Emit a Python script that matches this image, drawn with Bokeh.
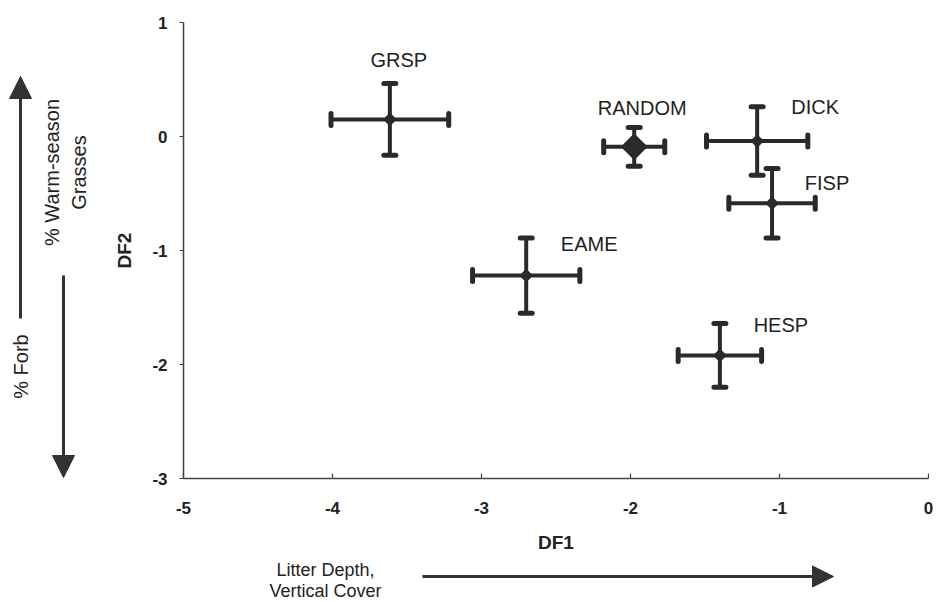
import math
from bokeh.plotting import figure
from bokeh.layouts import column, row
from bokeh.models import (ColumnDataSource, FixedTicker, Label, Arrow, NormalHead, Range1d,
                          PrintfTickFormatter)
from bokeh.core.properties import value
from bokeh.embed import file_html
from bokeh.resources import INLINE

# ---- data ----
species = ["GRSP", "RANDOM", "EAME", "DICK", "FISP", "HESP"]
df1_mean = [-3.615, -1.975, -2.70, -1.15, -1.05, -1.40]
df2_mean = [0.15, -0.09, -1.22, -0.04, -0.585, -1.92]
df1_se = [0.395, 0.205, 0.36, 0.34, 0.29, 0.28]
df2_se = [0.315, 0.17, 0.33, 0.30, 0.305, 0.28]
x_ticks = [-5, -4, -3, -2, -1, 0]
y_ticks = [-3, -2, -1, 0, 1]

# ---- layout / style constants (pixels) ----
label_offsets = {"GRSP": (9, -59), "RANDOM": (8, -39), "DICK": (58, -34),
                 "FISP": (55, -20), "EAME": (63, -32), "HESP": (61, -30)}
INK = "#2a2a2a"
TXT = "#222222"
FONT = "Liberation Sans"
W, H = 935, 600
LEFT_W = 100
MAIN_H = 560
TOP_B, BOT_B = 22, 82          # frame borders of the main chart
FRAME_TOP, FRAME_BOT = TOP_B, MAIN_H - BOT_B


def blank(width, height, xr, yr, **kw):
    f = figure(width=width, height=height, x_range=Range1d(*xr), y_range=Range1d(*yr),
               x_axis_type=None, y_axis_type=None, output_backend="svg",
               toolbar_location=None, min_border=0, **kw)
    f.outline_line_color = None
    return f


src = ColumnDataSource(dict(
    name=species, x=df1_mean, y=df2_mean,
    xlo=[m - e for m, e in zip(df1_mean, df1_se)],
    xhi=[m + e for m, e in zip(df1_mean, df1_se)],
    ylo=[m - e for m, e in zip(df2_mean, df2_se)],
    yhi=[m + e for m, e in zip(df2_mean, df2_se)],
    dx=[label_offsets[s][0] for s in species],
    dy=[label_offsets[s][1] for s in species],
))

# ---------------- main chart ----------------
p = figure(width=W - LEFT_W, height=MAIN_H, x_range=Range1d(-5, 0), y_range=Range1d(-3, 1),
           output_backend="svg", toolbar_location=None,
           min_border_left=83, min_border_right=7, min_border_top=TOP_B,
           min_border_bottom=BOT_B)
p.outline_line_color = None
p.xgrid.grid_line_color = None
p.ygrid.grid_line_color = None

for ax in (p.xaxis[0], p.yaxis[0]):
    ax.axis_line_color = "#444444"
    ax.axis_line_width = 1.5
    ax.major_tick_line_color = "#444444"
    ax.major_tick_line_width = 1.2
    ax.minor_tick_line_color = None
    ax.formatter = PrintfTickFormatter(format="%d")
    ax.major_label_text_font = FONT
    ax.major_label_text_font_size = "17px"
    ax.major_label_text_font_style = "bold"
    ax.major_label_text_color = TXT
    ax.axis_label_text_font = FONT
    ax.axis_label_text_font_size = "19px"
    ax.axis_label_text_font_style = "bold"
    ax.axis_label_text_color = TXT

p.xaxis.ticker = FixedTicker(ticks=x_ticks)
p.yaxis.ticker = FixedTicker(ticks=y_ticks)
p.xaxis.major_tick_in = 5
p.xaxis.major_tick_out = 0
p.yaxis.major_tick_in = 0
p.yaxis.major_tick_out = 4
p.xaxis.major_label_standoff = 23
p.yaxis.major_label_standoff = 12
p.xaxis.axis_label = "DF1"
p.yaxis.axis_label = "DF2"
p.xaxis.axis_label_standoff = 15
p.yaxis.axis_label_standoff = 14

# error bars
p.segment(x0="xlo", y0="y", x1="xhi", y1="y", source=src, line_color=INK, line_width=4)
p.segment(x0="x", y0="ylo", x1="x", y1="yhi", source=src, line_color=INK, line_width=4)
for xc, yc, ang in (("xlo", "y", math.pi / 2), ("xhi", "y", math.pi / 2),
                    ("x", "ylo", 0.0), ("x", "yhi", 0.0)):
    p.scatter(x=xc, y=yc, source=src, marker="dash", angle=ang, size=12,
              line_color=INK, line_width=5, line_cap="round")
# centre markers
p.scatter(x="x", y="y", source=src, marker="square", angle=math.pi / 4, size=9,
          fill_color=INK, line_color=INK, line_join="round")
i_rnd = species.index("RANDOM")
rnd = ColumnDataSource(dict(x=[df1_mean[i_rnd]], y=[df2_mean[i_rnd]]))
p.scatter(x="x", y="y", source=rnd, marker="square", angle=math.pi / 4, size=17,
          fill_color=INK, line_color=INK, line_width=2, line_join="round")

# point labels
p.text(x="x", y="y", text="name", x_offset="dx", y_offset="dy", source=src,
       text_align="center", text_baseline="middle", text_font=value(FONT),
       text_font_size="20px", text_color=TXT)

# ---------------- left panel (interpretation of DF2) ----------------
# its frame is aligned with the main frame; data units = page pixels
left = blank(LEFT_W, MAIN_H, (0, LEFT_W), (FRAME_BOT, FRAME_TOP),
             min_border_top=TOP_B, min_border_bottom=BOT_B)


def add_label(f, text, x, y, angle=0.0, size="17px"):
    f.add_layout(Label(x=x, y=y, text=text, angle=angle, text_align="center",
                       text_baseline="middle", text_font=FONT, text_font_size=size,
                       text_color=TXT))


def add_arrow(f, x0, y0, x1, y1, size):
    f.add_layout(Arrow(x_start=x0, y_start=y0, x_end=x1, y_end=y1,
                       line_color="#333333", line_width=3,
                       end=NormalHead(size=size, fill_color="#333333", line_color="#333333")))


add_arrow(left, 20, 318, 20, 76, 22)
add_arrow(left, 63, 275, 63, 477, 22)
add_label(left, "% Warm-season", 51, 172, math.pi / 2, "20px")
add_label(left, "Grasses", 78, 172, math.pi / 2, "20px")
add_label(left, "% Forb", 20, 366, math.pi / 2, "20px")

# ---------------- bottom panel (interpretation of DF1) ----------------
bottom = blank(W, H - MAIN_H, (0, W), (H, MAIN_H))
add_label(bottom, "Litter Depth,", 325, 569, 0.0, "18px")
add_label(bottom, "Vertical Cover", 325, 590, 0.0, "18px")
add_arrow(bottom, 422, 576, 833, 576, 21)

layout = column(row(left, p, spacing=0), bottom, spacing=0)
open("out.html", "w").write(file_html(layout, INLINE))
